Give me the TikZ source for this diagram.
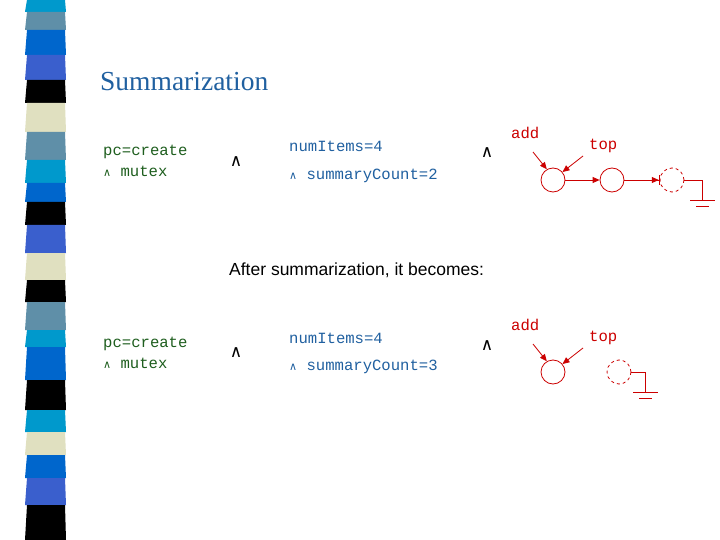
\documentclass[tikz,border=0pt]{standalone}
\usepackage{fontspec}
\setmainfont{Liberation Serif}
\setsansfont{Liberation Sans}
\setmonofont{Liberation Mono}
\newfontfamily\symf{DejaVu Sans}
\usetikzlibrary{arrows.meta}
\definecolor{sc}{HTML}{0099CC}\definecolor{sg}{HTML}{5F8FA8}\definecolor{sb}{HTML}{0066CC}
\definecolor{sp}{HTML}{3A5FCD}\definecolor{sk}{HTML}{000000}\definecolor{se}{HTML}{E0E0C0}
\definecolor{tblue}{HTML}{2060A0}\definecolor{tgreen}{HTML}{1E5E1E}\definecolor{rd}{HTML}{CC0000}
\tikzset{
 mono/.style={font=\ttfamily\fontsize{15.6}{15.6}\selectfont,anchor=west,inner sep=0},
 grn/.style={mono,text=tgreen}, blu/.style={mono,text=tblue},
 redt/.style={mono,text=rd},
 andop/.style={font=\symf\fontsize{17}{17}\selectfont,inner sep=0},
 cell/.style={draw=rd,circle,minimum size=24pt,inner sep=0,line width=0.8pt},
 dcell/.style={cell,dashed},
 rline/.style={draw=rd,line width=0.8pt},
 rarr/.style={rline,-{Triangle[length=7pt,width=6pt]}},
 barr/.style={rline,-{Triangle[length=7pt,width=6pt]Bar[width=10pt]}}
}
\begin{document}
\begin{tikzpicture}[x=1pt,y=-1pt]
\useasboundingbox (0,0) rectangle (720,540);
\fill[white] (0,0) rectangle (720,540);
\foreach \a/\b/\c in {0/12/sc,12/30/sg,30/55/sb,55/80/sp,80/103/sk,103/132/se,132/160/sg,160/183/sc,183/202/sb,202/225/sk,225/253/sp,253/280/se,280/302/sk,302/330/sg,330/347/sc,347/380/sb,380/410/sk,410/432/sc,432/455/se,455/478/sb,478/505/sp,505/540/sk}
 \fill[\c] (27,\a) -- (65,\a) -- (66,\b) -- (25,\b) -- cycle;
\node[anchor=west,inner sep=0,text=tblue,font=\fontsize{27.5}{27.5}\selectfont] (title) at (100,82) {Summarization};
% row 1
\node[grn] (pc1) at (103,152) {pc=create};
\node[grn] (mx1) at (103,171) {{\symf\fontsize{11}{11}\selectfont ∧} mutex};
\node[andop] (a11) at (236,162) {∧};
\node[blu] (ni1) at (289,146) {numItems=4};
\node[blu] (sc1) at (289,176) {{\symf\fontsize{11}{11}\selectfont ∧} summaryCount=2};
\node[andop] (a12) at (487,153) {∧};
\node[redt] (add1) at (511,133) {add};
\node[redt] (top1) at (589,146) {top};
\node[cell] (c1) at (553,180) {};
\node[cell] (c2) at (612,180) {};
\node[dcell] (c3) at (672,180) {};
\coordinate (g1) at (702,180); \coordinate (g1b) at (702,200);
\coordinate (p1) at (533,152); \coordinate (p2) at (583,156);
\draw[rarr] (p1) -- (c1.120);
\draw[rarr] (p2) -- (c1.40);
\draw[rarr] (c1) -- (c2);
\draw[barr] (c2) -- (c3.west);
\draw[rline] (c3.east) -- (g1) -- (g1b);
\draw[rline] (690,200) -- (715,200) (696,206) -- (709,206);
% middle
\node[anchor=west,inner sep=0,font=\sffamily\fontsize{17.5}{17.5}\selectfont] (after) at (229,270) {After summarization, it becomes:};
% row 2
\node[grn] (pc2) at (103,344) {pc=create};
\node[grn] (mx2) at (103,363) {{\symf\fontsize{11}{11}\selectfont ∧} mutex};
\node[andop] (a21) at (236,353) {∧};
\node[blu] (ni2) at (289,338) {numItems=4};
\node[blu] (sc2) at (289,367) {{\symf\fontsize{11}{11}\selectfont ∧} summaryCount=3};
\node[andop] (a22) at (487,346) {∧};
\node[redt] (add2) at (511,325) {add};
\node[redt] (top2) at (589,338) {top};
\node[cell] (d1) at (553,372) {};
\node[dcell] (d2) at (619,372) {};
\coordinate (h1) at (645,372); \coordinate (h1b) at (645,392);
\coordinate (q1) at (533,344); \coordinate (q2) at (583,348);
\draw[rarr] (q1) -- (d1.120);
\draw[rarr] (q2) -- (d1.40);
\draw[rline] (d2.east) -- (h1) -- (h1b);
\draw[rline] (633,392) -- (658,392) (639,398) -- (652,398);
\end{tikzpicture}
\end{document}
